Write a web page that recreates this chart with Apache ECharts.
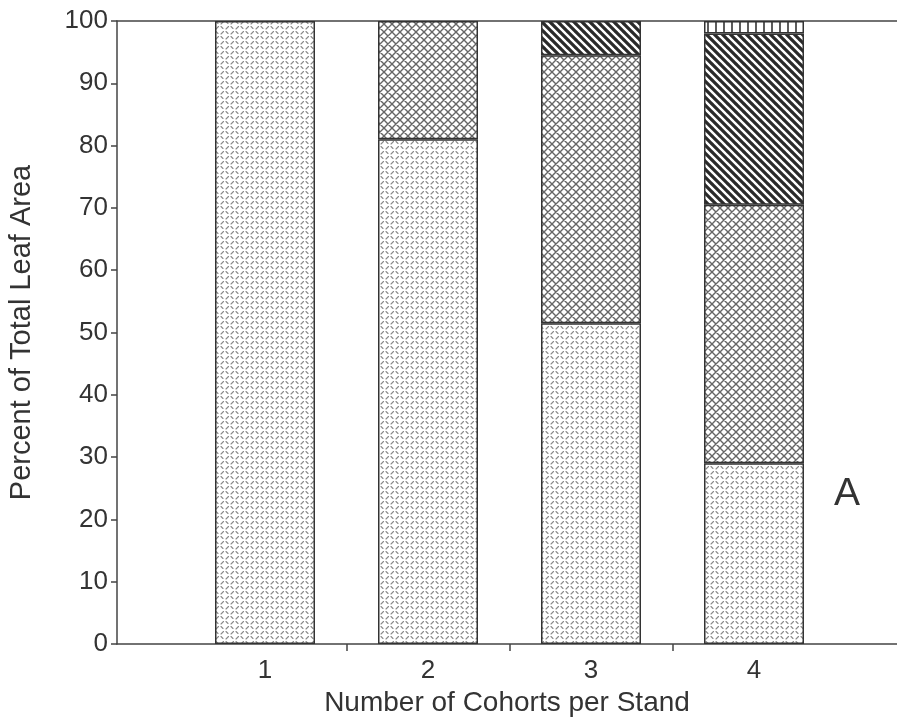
<!DOCTYPE html>
<html>
<head>
<meta charset="utf-8">
<script src="https://cdn.jsdelivr.net/npm/echarts@6/dist/echarts.min.js"></script>
<style>html,body{margin:0;padding:0;background:#fff}#c{width:897px;height:719px}</style>
</head>
<body>
<div id="c"></div>
<script>
// Data
const cohortLabels = ['1', '2', '3', '4'];
const cohortPos = [1, 2, 3, 4];
const lightSeg = [100, 81, 51.5, 29];
const meshSeg = [null, 19, 43, 41.5];
const darkSeg = [null, null, 5.5, 27.5];
const stripeSeg = [null, null, null, 2];
const yTicks = [0, 10, 20, 30, 40, 50, 60, 70, 80, 90, 100];

function tile(w, h, draw) {
  const c = document.createElement('canvas');
  c.width = w; c.height = h;
  const g = c.getContext('2d');
  g.fillStyle = '#fff'; g.fillRect(0, 0, w, h);
  draw(g, w, h);
  return { image: c, repeat: 'repeat' };
}
const patLight = tile(10, 10, (g) => {
  g.strokeStyle = '#8a8a8a'; g.lineWidth = 1.1; g.lineCap = 'round';
  g.beginPath();
  g.moveTo(1, 4); g.lineTo(3.5, 1.5);
  g.moveTo(6, 9); g.lineTo(8.5, 6.5);
  g.moveTo(6, 1.5); g.lineTo(8, 3.5);
  g.moveTo(1, 6.5); g.lineTo(3, 8.5);
  g.stroke();
});
const patMesh = tile(8, 8, (g) => {
  g.strokeStyle = '#666'; g.lineWidth = 1.4;
  g.beginPath();
  for (let k = -8; k <= 16; k += 8) {
    g.moveTo(k, 0); g.lineTo(k + 8, 8);
    g.moveTo(k + 8, 0); g.lineTo(k, 8);
  }
  g.stroke();
});
const patDark = tile(8, 8, (g) => {
  g.strokeStyle = '#2a2a2a'; g.lineWidth = 3.2;
  g.beginPath();
  for (let k = -8; k <= 8; k += 8) {
    g.moveTo(k - 1, -1); g.lineTo(k + 9, 9);
  }
  g.stroke();
});
const patStripe = tile(8, 8, (g) => {
  g.strokeStyle = '#333'; g.lineWidth = 1.6;
  g.beginPath(); g.moveTo(4, 0); g.lineTo(4, 8); g.stroke();
});

function mk(name, vals, pat) {
  return {
    name, type: 'bar', stack: 'all', barWidth: 100,
    xAxisIndex: 2, yAxisIndex: 1,
    data: vals,
    itemStyle: { color: pat, borderColor: '#333', borderWidth: 1.5 },
    emphasis: { disabled: true }
  };
}

const chart = echarts.init(document.getElementById('c'));
const font = 'Liberation Sans, Arial, sans-serif';
const axisCol = '#444';
chart.setOption({
  backgroundColor: '#fff',
  animation: false,
  grid: [
    { left: 117, right: 0, top: 21, bottom: 75, outerBoundsMode: 'none', containLabel: false },
    { left: 183.5, right: 61.5, top: 21, bottom: 75, outerBoundsMode: 'none', containLabel: false }
  ],
  xAxis: [{
    gridIndex: 0, type: 'value', min: 0.092, max: 4.877,
    splitLine: { show: false },
    axisLine: { show: true, lineStyle: { color: axisCol, width: 1.5 } },
    axisTick: { show: true, customValues: [1.5, 2.5, 3.5], length: 7, lineStyle: { color: axisCol, width: 1.5 } },
    axisLabel: { customValues: cohortPos, formatter: (v) => cohortLabels[cohortPos.indexOf(v)] || '', fontSize: 26, color: '#333', fontFamily: font, margin: 14 },
    name: 'Number of Cohorts per Stand', nameLocation: 'middle', nameGap: 45,
    nameTextStyle: { fontSize: 28, color: '#333', fontFamily: font }
  }, {
    gridIndex: 0, type: 'value', position: 'top', min: 0.092, max: 4.877,
    splitLine: { show: false }, axisTick: { show: false }, axisLabel: { show: false },
    axisLine: { show: true, onZero: false, lineStyle: { color: axisCol, width: 1.5 } }
  }, {
    gridIndex: 1, type: 'category', data: cohortLabels, show: false
  }],
  yAxis: [{
    gridIndex: 0, type: 'value', min: 0, max: 100, interval: 10,
    splitLine: { show: false },
    axisLine: { show: true, lineStyle: { color: axisCol, width: 1.5 } },
    axisTick: { show: true, length: 6, lineStyle: { color: axisCol, width: 1.5 } },
    axisLabel: { fontSize: 26, color: '#333', fontFamily: font, margin: 9,
      formatter: (v) => yTicks.includes(v) ? String(v) : '' },
    name: 'Percent of Total Leaf Area', nameLocation: 'middle', nameGap: 81,
    nameTextStyle: { fontSize: 29, color: '#333', fontFamily: font }
  }, {
    gridIndex: 1, type: 'value', min: 0, max: 100, show: false
  }],
  graphic: [{
    type: 'text', left: 834, top: 475,
    style: { text: 'A', fontSize: 39, fill: '#333', fontFamily: font }
  }],
  series: [
    mk('light', lightSeg, patLight),
    mk('mesh', meshSeg, patMesh),
    mk('dark', darkSeg, patDark),
    mk('stripe', stripeSeg, patStripe)
  ]
});
</script>
</body>
</html>
